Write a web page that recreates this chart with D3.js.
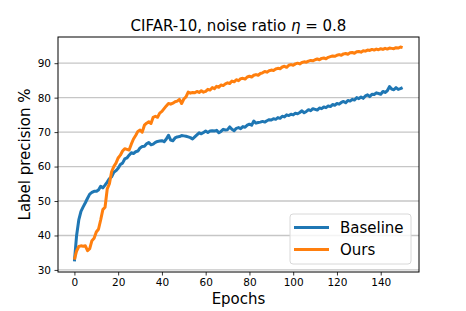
<!DOCTYPE html>
<html>
<head>
<meta charset="utf-8">
<script src="https://cdn.jsdelivr.net/npm/d3@7"></script>
<style>
  body { margin: 0; background: #fff; }
  text { font-family: "DejaVu Sans", sans-serif; fill: #000; }
</style>
</head>
<body>
<div id="chart"></div>
<script>
const width = 466;
const height = 311;
const margin = { top: 37, right: 47, bottom: 39, left: 58 };

// epochs 0..150
const epochs = d3.range(0, 151);

const baseline = [
  32.5, 40.0, 44.5, 47.0, 48.3, 49.5, 50.8, 52.0, 52.5, 52.8,
  52.8, 53.2, 54.3, 53.8, 54.6, 55.5, 56.5, 57.0, 58.3, 58.8,
  59.5, 60.6, 61.0, 62.2, 62.5, 63.3, 64.0, 63.8, 64.3, 64.5,
  65.4, 65.8, 65.9, 66.6, 67.0, 66.3, 66.5, 67.0, 67.3, 67.4,
  67.5, 67.2, 68.0, 69.1, 67.7, 67.5, 68.3, 68.6, 68.7, 69.0,
  68.9, 68.8, 68.6, 68.4, 68.0, 68.6, 69.2, 69.8, 69.5, 69.9,
  70.3, 69.9, 70.3, 70.4, 70.3, 70.5, 69.8, 70.2, 70.8, 70.6,
  70.7, 71.5, 70.8, 70.4, 71.1, 71.3, 71.0, 71.6, 71.4, 72.0,
  72.3, 72.0, 73.2, 72.6, 72.8, 72.9, 73.1, 72.9, 73.3, 73.6,
  73.5, 73.9, 73.7, 74.2, 74.0, 74.6, 74.4, 75.0, 74.8, 75.2,
  75.0, 75.5, 75.3, 75.7, 76.2, 75.6, 76.0, 76.5, 76.2, 76.8,
  76.6, 76.4, 77.0, 76.8, 77.3, 77.1, 77.6, 77.4, 78.0, 77.8,
  78.3, 78.1, 78.6, 78.9, 78.5, 79.2, 79.0, 79.5, 79.3, 80.0,
  79.7, 80.2, 79.8, 80.5, 80.8, 80.3, 81.0, 80.9, 81.4, 81.2,
  81.0, 81.8, 81.5, 82.0, 83.2, 82.5, 82.3, 82.9, 82.4, 82.6,
  82.9
];

const ours = [
  33.0, 35.5, 36.8, 37.0, 36.9, 37.0, 35.6, 36.2, 38.5, 39.2,
  41.0, 41.8, 44.5, 47.5, 48.2, 53.5, 55.0, 58.5, 60.0, 61.0,
  62.5, 63.3, 64.5, 65.2, 65.0, 64.8, 66.5, 68.0, 69.0, 70.2,
  70.6, 70.0, 72.0, 72.6, 73.0, 72.5, 74.3, 74.6, 74.3, 75.5,
  76.0, 76.8, 77.6, 78.3, 78.1, 78.4, 78.8, 79.0, 79.5, 78.3,
  79.6, 80.2, 81.6, 81.3, 81.5, 81.4, 81.8, 81.5, 82.0, 81.6,
  81.8, 82.4, 82.2, 82.9, 82.6, 83.3, 83.0, 83.7, 83.5, 84.0,
  84.3, 84.1, 84.8, 84.6, 85.2, 84.9, 85.5, 85.6, 85.4, 86.0,
  86.2, 86.0, 86.5, 86.7, 86.5, 87.0, 87.2, 87.6, 87.4, 87.8,
  88.0, 87.9, 88.3, 88.5, 88.4, 88.9, 89.1, 88.8, 89.4, 89.6,
  89.4, 89.8, 90.0, 89.8, 90.2, 90.4, 90.3, 90.6, 90.8, 90.7,
  91.0, 91.2, 91.0, 91.4, 91.5, 91.3, 91.7, 91.9, 92.1, 92.0,
  92.3, 92.5, 92.3, 92.7, 92.8, 92.6, 93.0, 93.1, 92.9, 93.3,
  93.4, 93.2, 93.6, 93.5, 93.8, 93.7, 94.0, 93.8, 94.1, 93.9,
  94.2, 94.0, 94.3, 94.1, 94.4, 94.3, 94.2, 94.5, 94.4, 94.7,
  94.5
];

const seriesNames = ["Baseline", "Ours"];
const colors = ["#1f77b4", "#ff7f0e"];
const xTicks = [0, 20, 40, 60, 80, 100, 120, 140];
const yTicks = [30, 40, 50, 60, 70, 80, 90];

const svg = d3.select("#chart").append("svg")
  .attr("width", width).attr("height", height);

const x = d3.scaleLinear().domain([-7.5, 157.5]).range([margin.left, width - margin.right]);
const y = d3.scaleLinear().domain([29.4, 97.6]).range([height - margin.bottom, margin.top]);

// horizontal grid
svg.append("g")
  .selectAll("line")
  .data(yTicks)
  .join("line")
    .attr("x1", margin.left).attr("x2", width - margin.right)
    .attr("y1", d => y(d)).attr("y2", d => y(d))
    .attr("stroke", "#c6c6c6").attr("stroke-width", 1.3);

const line = d3.line().x((d, i) => x(epochs[i])).y(d => y(d));

[baseline, ours].forEach((s, k) => {
  svg.append("path")
    .datum(s)
    .attr("fill", "none")
    .attr("stroke", colors[k])
    .attr("stroke-width", 3)
    .attr("stroke-linejoin", "round")
    .attr("d", line);
});

// axes
const xAxis = svg.append("g")
  .attr("transform", `translate(0,${height - margin.bottom})`)
  .call(d3.axisBottom(x).tickValues(xTicks).tickSize(3.5).tickPadding(3.5));
const yAxis = svg.append("g")
  .attr("transform", `translate(${margin.left},0)`)
  .call(d3.axisLeft(y).tickValues(yTicks).tickSize(3.5).tickPadding(3.5));
[xAxis, yAxis].forEach(a => {
  a.select(".domain").remove();
  a.selectAll("text").attr("font-size", 10.5).attr("font-family", "DejaVu Sans");
  a.selectAll("line").attr("stroke", "#000").attr("stroke-width", 0.8);
});

// frame
svg.append("rect")
  .attr("x", margin.left).attr("y", margin.top)
  .attr("width", width - margin.left - margin.right)
  .attr("height", height - margin.top - margin.bottom)
  .attr("fill", "none").attr("stroke", "#000").attr("stroke-width", 1);

// title
const title = svg.append("text")
  .attr("x", (margin.left + width - margin.right) / 2)
  .attr("y", 31)
  .attr("text-anchor", "middle")
  .attr("font-size", 15);
title.append("tspan").text("CIFAR-10, noise ratio ");
title.append("tspan").attr("font-style", "italic").text("η");
title.append("tspan").text(" = 0.8");

// axis labels
svg.append("text")
  .attr("x", (margin.left + width - margin.right) / 2)
  .attr("y", 304)
  .attr("text-anchor", "middle")
  .attr("font-size", 15)
  .text("Epochs");

svg.append("text")
  .attr("transform", `translate(30,${(margin.top + height - margin.bottom) / 2}) rotate(-90)`)
  .attr("text-anchor", "middle")
  .attr("font-size", 15)
  .text("Label precision %");

// legend
const legend = svg.append("g").attr("transform", "translate(290,214)");
legend.append("rect")
  .attr("width", 121).attr("height", 50).attr("rx", 3)
  .attr("fill", "#fff").attr("fill-opacity", 0.8)
  .attr("stroke", "#d8d8d8");
seriesNames.forEach((name, i) => {
  const yy = 13.5 + i * 22;
  legend.append("line")
    .attr("x1", 4).attr("x2", 39).attr("y1", yy).attr("y2", yy)
    .attr("stroke", colors[i]).attr("stroke-width", 3);
  legend.append("text")
    .attr("x", 50).attr("y", yy + 5.5)
    .attr("font-size", 15)
    .text(name);
});
</script>
</body>
</html>
